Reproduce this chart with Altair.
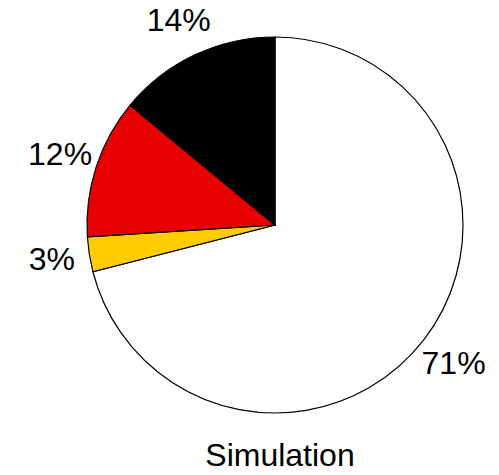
import altair as alt
import pandas as pd

labels = ["71%", "3%", "12%", "14%"]
values = [71, 3, 12, 14]
colors = ["#ffffff", "#ffcc00", "#e60000", "#000000"]
order = [0, 1, 2, 3]
title_text = "Simulation"

df = pd.DataFrame({"label": labels, "value": values, "order": order})

cx, cy = 267, 217

base = alt.Chart(df).encode(
    theta=alt.Theta("value:Q", stack=True),
    order=alt.Order("order:Q"),
)

pie = base.mark_arc(radius=188, stroke="black", strokeWidth=1.2).encode(
    color=alt.Color("label:N", scale=alt.Scale(domain=labels, range=colors), legend=None),
    x=alt.value(cx),
    y=alt.value(cy),
)

text = base.mark_text(radius=226, fontSize=32, font="Liberation Sans", color="black",
                      baseline="middle", align="center").encode(
    text="label:N",
    x=alt.value(cx),
    y=alt.value(cy),
)

title = alt.Chart(pd.DataFrame({"t": [title_text]})).mark_text(
    fontSize=32, font="Liberation Sans", color="black", baseline="middle", align="center"
).encode(
    text="t:N",
    x=alt.value(272),
    y=alt.value(448),
)

chart = alt.layer(pie, text, title).properties(
    width=483, height=459,
    autosize=alt.AutoSizeParams(type="none"),
    padding=0,
).configure_view(stroke=None)

chart.save("out.html", embed_options={"renderer": "svg", "actions": False})
